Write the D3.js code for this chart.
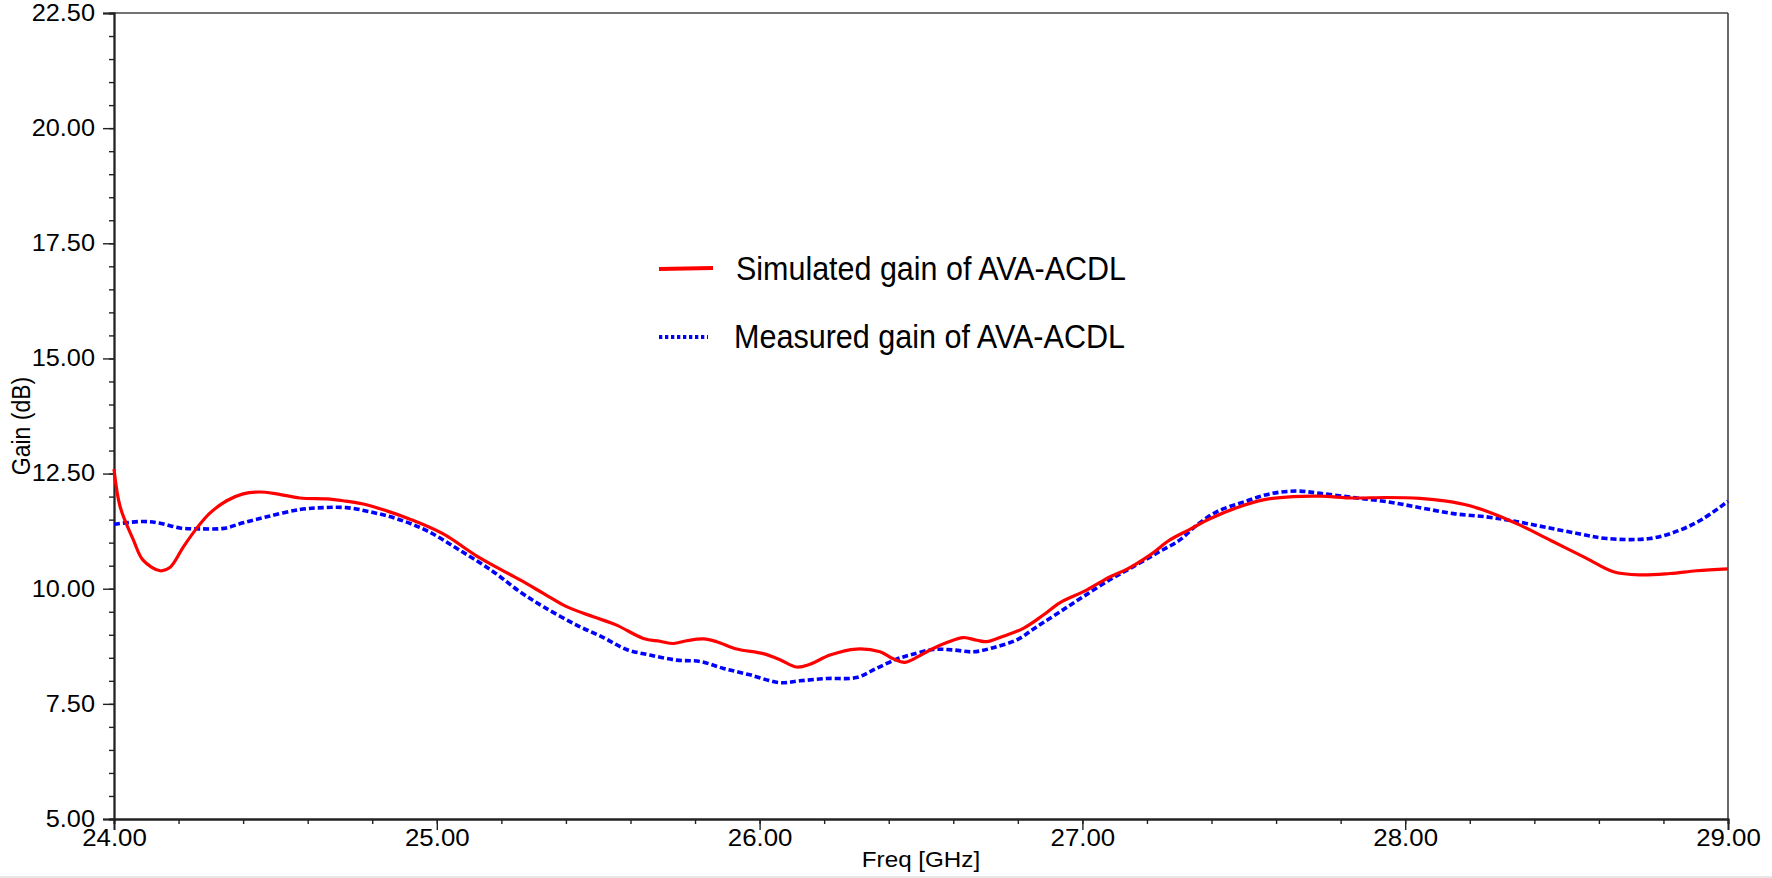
<!DOCTYPE html>
<html><head><meta charset="utf-8">
<script src="https://cdn.jsdelivr.net/npm/d3@7"></script>
<style>html,body{margin:0;padding:0;background:#fff;overflow:hidden}svg{display:block}text{font-family:"Liberation Sans",Arial,sans-serif}</style>
</head><body>
<script>
const simFreq=[24.000,24.019,24.06,24.09,24.143,24.173,24.215,24.256,24.297,24.349,24.40,24.452,24.504,24.576,24.659,24.71,24.772,24.845,24.917,25.02,25.124,25.258,25.33,25.402,25.485,25.557,25.64,25.691,25.733,25.774,25.826,25.867,25.929,26.011,26.063,26.115,26.156,26.218,26.30,26.373,26.414,26.45,26.497,26.528,26.58,26.631,26.673,26.703,26.755,26.817,26.879,26.931,27.013,27.086,27.137,27.209,27.271,27.333,27.395,27.478,27.56,27.653,27.736,27.839,27.942,28.046,28.128,28.20,28.273,28.356,28.459,28.562,28.645,28.727,28.82,28.903,29.00];
const simGain=[12.60,11.78,11.06,10.62,10.39,10.46,10.91,11.31,11.64,11.91,12.06,12.10,12.06,11.97,11.95,11.91,11.84,11.69,11.51,11.19,10.71,10.19,9.90,9.61,9.39,9.21,8.92,8.86,8.81,8.87,8.91,8.85,8.69,8.59,8.46,8.30,8.36,8.56,8.69,8.63,8.48,8.40,8.55,8.67,8.83,8.94,8.88,8.85,8.97,9.14,9.43,9.70,9.97,10.26,10.42,10.73,11.06,11.29,11.52,11.76,11.93,12.00,12.01,11.97,11.98,11.96,11.90,11.80,11.63,11.38,11.02,10.66,10.37,10.30,10.33,10.39,10.43];
const measFreq=[24.00,24.09,24.143,24.204,24.266,24.339,24.40,24.473,24.576,24.648,24.72,24.793,24.876,24.969,25.07,25.175,25.258,25.33,25.433,25.516,25.588,25.66,25.743,25.815,25.888,25.97,26.063,26.125,26.208,26.30,26.362,26.424,26.466,26.538,26.60,26.662,26.724,26.797,26.858,26.931,27.003,27.086,27.148,27.23,27.302,27.354,27.416,27.498,27.581,27.664,27.736,27.839,27.942,28.046,28.149,28.252,28.335,28.438,28.541,28.624,28.758,28.85,28.923,29.00];
const measGain=[11.40,11.46,11.42,11.32,11.30,11.31,11.43,11.56,11.72,11.76,11.76,11.67,11.52,11.26,10.84,10.37,9.93,9.61,9.21,8.94,8.68,8.56,8.45,8.42,8.27,8.13,7.96,8.00,8.05,8.07,8.27,8.47,8.56,8.68,8.67,8.63,8.72,8.89,9.17,9.50,9.83,10.20,10.44,10.77,11.06,11.38,11.67,11.88,12.06,12.12,12.07,11.98,11.89,11.76,11.63,11.56,11.47,11.33,11.19,11.09,11.09,11.27,11.52,11.90];
const xTicks=[24,25,26,27,28,29];
const yTicks=[5,7.5,10,12.5,15,17.5,20,22.5];
const legendLabels=["Simulated gain of AVA-ACDL","Measured gain of AVA-ACDL"];

const W=1772,H=878;
const m={l:114,t:13,r:44,b:59};
const svg=d3.select("body").append("svg").attr("width",W).attr("height",H);
const x=d3.scaleLinear().domain([24,29]).range([m.l,W-m.r]);
const y=d3.scaleLinear().domain([5,22.5]).range([H-m.b,m.t]);
const fmt=d3.format(".2f");
const STRETCH=1.1;
function stretch(sel,f){sel.each(function(){const L=this.getComputedTextLength();d3.select(this).attr("textLength",L*f).attr("lengthAdjust","spacingAndGlyphs");});}

// frame top/right
svg.append("line").attr("x1",x(24)).attr("x2",x(29)).attr("y1",y(22.5)).attr("y2",y(22.5)).attr("stroke","#444").attr("stroke-width",1.6);
svg.append("line").attr("x1",x(29)).attr("x2",x(29)).attr("y1",y(22.5)).attr("y2",y(5)).attr("stroke","#444").attr("stroke-width",1.6);

// y axis
const yMinor=d3.range(5,22.5001,0.5);
const yA=svg.append("g").attr("transform",`translate(${m.l},0)`);
yA.call(d3.axisLeft(y).tickValues(yMinor).tickSize(5).tickFormat(""));
const yM=svg.append("g").attr("transform",`translate(${m.l},0)`);
yM.call(d3.axisLeft(y).tickValues(yTicks).tickSize(11).tickPadding(8).tickFormat(fmt));
[yA,yM].forEach(g=>{g.select(".domain").attr("stroke","#222").attr("stroke-width",1.8);g.selectAll("line").attr("stroke","#222").attr("stroke-width",1.4);});
yM.selectAll("text").attr("font-size",23).attr("fill","#000").attr("font-family","Liberation Sans, Arial, sans-serif").call(stretch,STRETCH);

// x axis
const xMinor=d3.range(24,29.0001,0.2);
const xA=svg.append("g").attr("transform",`translate(0,${H-m.b})`);
xA.call(d3.axisBottom(x).tickValues(xMinor).tickSize(5).tickFormat(""));
const xM=svg.append("g").attr("transform",`translate(0,${H-m.b})`);
xM.call(d3.axisBottom(x).tickValues(xTicks).tickSize(11).tickPadding(-1).tickFormat(fmt));
[xA,xM].forEach(g=>{g.select(".domain").attr("stroke","#222").attr("stroke-width",1.8);g.selectAll("line").attr("stroke","#222").attr("stroke-width",1.4);});
xM.selectAll("text").attr("font-size",23.5).attr("fill","#000").attr("font-family","Liberation Sans, Arial, sans-serif").call(stretch,STRETCH);

// axis titles
svg.append("text").attr("x",(x(24)+x(29))/2).attr("y",867).attr("text-anchor","middle").attr("font-size",22).text("Freq [GHz]").call(stretch,STRETCH);
svg.append("text").attr("transform",`translate(30,426) scale(${STRETCH},1) rotate(-90)`).attr("text-anchor","middle").attr("font-size",23).text("Gain (dB)");

// lines
const line=d3.line().x(d=>x(d[0])).y(d=>y(d[1])).curve(d3.curveCatmullRom.alpha(0.5));
const sim=simFreq.map((f,i)=>[f,simGain[i]]);
const meas=measFreq.map((f,i)=>[f,measGain[i]]);
svg.append("path").datum(meas).attr("d",line).attr("fill","none").attr("stroke","#0000ff").attr("stroke-width",3.6).attr("stroke-dasharray","6,3");
svg.append("path").datum(sim).attr("d",line).attr("fill","none").attr("stroke","#ff0000").attr("stroke-width",3.2);

// legend
const lg=svg.append("g");
lg.append("line").attr("x1",659).attr("x2",713).attr("y1",269).attr("y2",268).attr("stroke","#ff0000").attr("stroke-width",4);
lg.append("line").attr("x1",659).attr("x2",708).attr("y1",337).attr("y2",337).attr("stroke","#0000ff").attr("stroke-width",4).attr("stroke-dasharray","3.3,2.7");
lg.append("text").attr("x",736).attr("y",280).attr("font-size",33.5).attr("textLength",390).attr("lengthAdjust","spacingAndGlyphs").text(legendLabels[0]);
lg.append("text").attr("x",734).attr("y",348).attr("font-size",33.5).attr("textLength",391).attr("lengthAdjust","spacingAndGlyphs").text(legendLabels[1]);

svg.append("rect").attr("x",0).attr("y",876).attr("width",W).attr("height",2).attr("fill","#e6e6e6");
</script>
</body></html>
